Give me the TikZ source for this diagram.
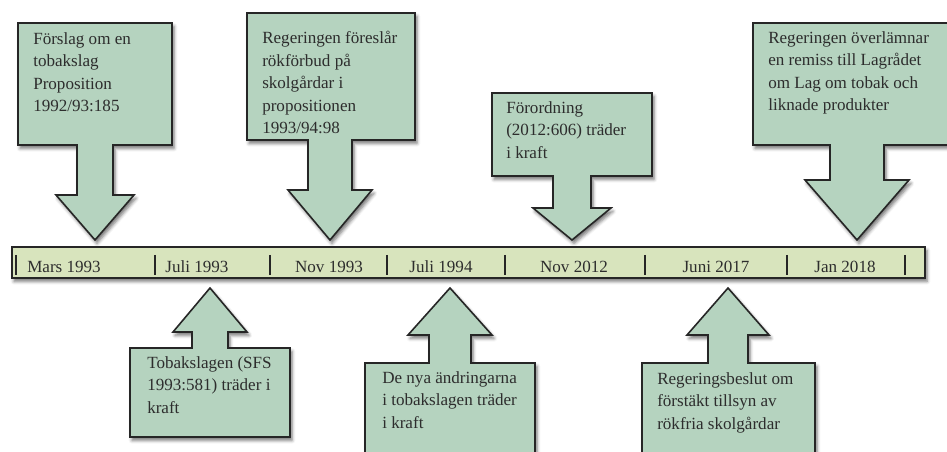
\documentclass[tikz,border=0pt]{standalone}
\usepackage{fontspec}
\setmainfont{Liberation Serif}
\usetikzlibrary{shadows.blur}
\definecolor{sage}{RGB}{181,211,191}
\definecolor{barfill}{RGB}{216,228,189}
\definecolor{ink}{RGB}{45,45,45}
% box with arrow: left, right, far edge, joint edge, centre x, stem half, stem end, head half, tip
\newcommand{\callout}[9]{%
  \draw[callout] (#1,#3) -- (#1,#4) -- ({#5-#6},#4) -- ({#5-#6},#7) -- ({#5-#8},#7) -- (#5,#9)
    -- ({#5+#8},#7) -- ({#5+#6},#7) -- ({#5+#6},#4) -- (#2,#4) -- (#2,#3) -- cycle;}
\begin{document}
\begin{tikzpicture}[x=0.75pt, y=-0.75pt, font=\fontsize{12.8}{16.9}\selectfont, line join=miter,
  callout/.style={draw=black!85, line width=1.2pt, fill=sage,
    blur shadow={shadow xshift=1.5pt, shadow yshift=-2.5pt, shadow blur radius=2.5pt, shadow opacity=55}},
  note/.style={anchor=north west, align=left, text=ink, inner sep=0pt, execute at begin node=\strut},
  datum/.style={anchor=base, text=ink, inner sep=0pt}]
	\useasboundingbox (0,0) rectangle (947,452);
	\clip (0,0) rectangle (947,452);
	% callouts above the line
	\callout{18}{172}{23}{145}{95}{18}{195}{39}{240}
	\callout{247}{415}{13}{140}{330}{22}{190}{42}{240}
	\callout{492}{652}{93}{176}{572}{19}{208}{39}{240}
	\callout{753}{965}{23}{145}{857}{27}{180}{52}{240}
	% callouts below the line
	\callout{130}{290}{437}{348}{210}{18}{332}{37}{288}
	\callout{365}{535}{480}{363}{450}{21}{335}{42}{288}
	\callout{642}{815}{480}{363}{728}{20}{335}{41}{288}
	\node[note] (forslag) at (33,32) {Förslag om en\\tobakslag\\Proposition\\1992/93:185};
	\node[note] (rokforbud) at (262,31) {Regeringen föreslår\\rökförbud på\\skolgårdar i\\propositionen\\1993/94:98};
	\node[note] (forordning) at (506,101) {Förordning\\(2012:606) träder\\i kraft};
	\node[note] (remiss) at (768,31) {Regeringen överlämnar\\en remiss till Lagrådet\\om Lag om tobak och\\liknade produkter};
	\node[note] (tobakslagen) at (147,356) {Tobakslagen (SFS\\1993:581) träder i\\kraft};
	\node[note] (andringar) at (382,371) {De nya ändringarna\\i tobakslagen träder\\i kraft};
	\node[note] (tillsyn) at (657,372) {Regeringsbeslut om\\förstäkt tillsyn av\\rökfria skolgårdar};
	% the time line
	\draw[callout, fill=barfill] (12,247) rectangle (925,278);
	\foreach \x in {16,155,270,387,505,645,787,905}
		\draw[line width=1.3pt, black!85] (\x,255) -- (\x,275);
	\foreach \x/\t [count=\i] in {64/Mars 1993, 197/Juli 1993, 329/Nov 1993, 441/Juli 1994, 574/Nov 2012, 716/Juni 2017, 845/Jan 2018}
		\node[datum] (date\i) at (\x,273) {\t};
\end{tikzpicture}
\end{document}
